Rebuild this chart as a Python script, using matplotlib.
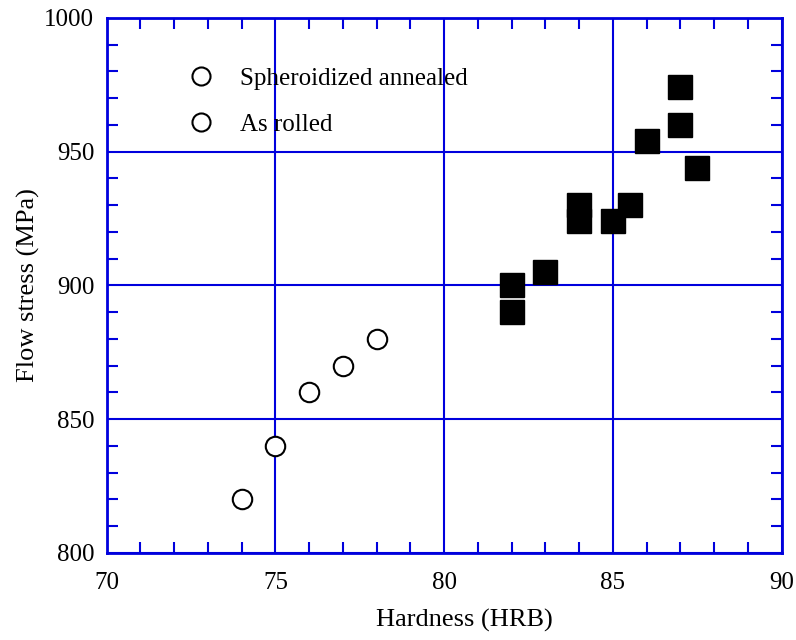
import numpy as np
import matplotlib.pyplot as plt
from matplotlib.lines import Line2D
from matplotlib.ticker import MultipleLocator

plt.rcParams['font.family'] = ['Liberation Serif', 'DejaVu Serif']

# as rolled (filled squares)
rolled_x = [87.0, 87.0, 86.0, 87.5, 84.0, 84.0, 85.5, 85.0, 83.0, 82.0, 82.0]
rolled_y = [974, 960, 954, 944, 930, 924, 930, 924, 905, 900, 890]
# spheroidized annealed (open circles)
annealed_x = [74, 75, 76, 77, 78]
annealed_y = [820, 840, 860, 870, 880]

legend_labels = ['Spheroidized annealed', 'As rolled']

blue = '#0000dd'

fig = plt.figure(figsize=(7.96, 6.40), dpi=100)
ax = fig.add_axes([0.134, 0.136, 0.848, 0.836])

ax.plot(rolled_x, rolled_y, 's', color='black', markersize=17, zorder=3)
ax.plot(annealed_x, annealed_y, 'o', mfc='white', mec='black', mew=1.5,
        markersize=14, zorder=3)

ax.set_xlim(70, 90)
ax.set_ylim(800, 1000)
ax.xaxis.set_major_locator(MultipleLocator(5))
ax.xaxis.set_minor_locator(MultipleLocator(1))
ax.yaxis.set_major_locator(MultipleLocator(50))
ax.yaxis.set_minor_locator(MultipleLocator(10))

ax.grid(True, which='major', color=blue, linewidth=1.5)
ax.set_axisbelow(True)
for s in ax.spines.values():
    s.set_color(blue)
    s.set_linewidth(2)
ax.tick_params(which='both', direction='in', top=True, right=True, color=blue,
               labelsize=18)
ax.tick_params(axis='x', pad=14)
ax.tick_params(axis='y', pad=9)
ax.tick_params(which='major', length=0)
ax.tick_params(which='minor', length=8, width=1.5)

ax.set_xlabel('Hardness (HRB)', fontsize=19)
ax.xaxis.set_label_coords(0.53, -0.105)
ax.set_ylabel('Flow stress (MPa)', fontsize=19, labelpad=3)

handles = [Line2D([], [], ls='none', marker='o', mfc='white', mec='black',
                  mew=1.5, markersize=13) for _ in legend_labels]
ax.legend(handles, legend_labels, loc='upper left', bbox_to_anchor=(0.07, 0.95),
          frameon=False, fontsize=18, handletextpad=0.55, labelspacing=0.95)

fig.savefig('out.png', dpi=100)
